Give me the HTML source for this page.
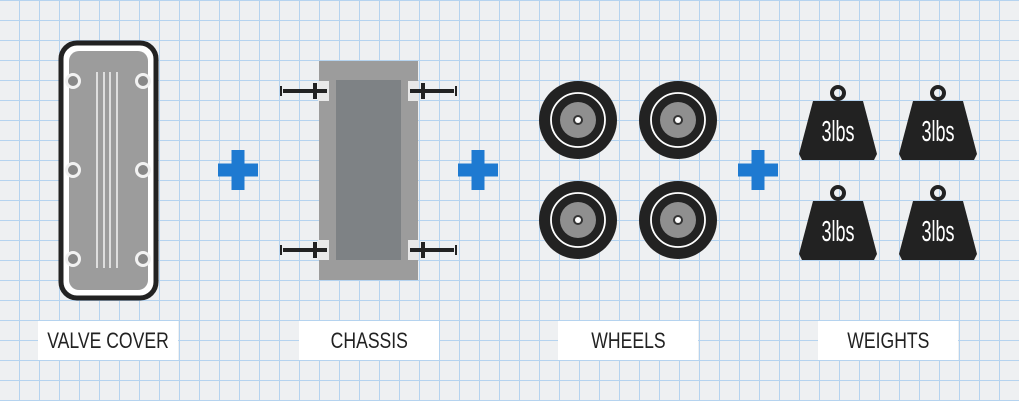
<!DOCTYPE html>
<html><head><meta charset="utf-8"><style>
html,body{margin:0;padding:0}
body{width:1019px;height:401px;overflow:hidden;position:relative;
background-color:#eef0f2;
background-image:linear-gradient(to right,#b5d3ef 1px,transparent 1px),linear-gradient(to bottom,#b5d3ef 1px,transparent 1px);
background-size:20px 20px;background-position:19px 0,0 0;}
.lab{position:absolute;top:321px;width:140px;height:39px;background:#fff;display:flex;align-items:center;justify-content:center;white-space:nowrap;
font-family:"Liberation Sans",sans-serif;font-size:22px;color:#222}
.lab span{display:inline-block;transform:scaleX(0.8)}
svg{position:absolute;left:0;top:0}
</style></head><body>
<svg width="1019" height="401" viewBox="0 0 1019 401">
<defs>
<g id="plus"><rect x="-20" y="-6.5" width="40" height="13" fill="#1e7ad1"/><rect x="-6.5" y="-20" width="13" height="40" fill="#1e7ad1"/></g>
<g id="wheel"><circle r="39" fill="#222"/><circle r="27" fill="none" stroke="#fff" stroke-width="1.8"/><circle r="18" fill="#8f8f8f"/><circle r="5" fill="#333"/><circle r="3" fill="#fff"/></g>
<g id="wt"><circle cx="0" cy="-37" r="6" fill="none" stroke="#222" stroke-width="4"/><path d="M-25,-29 L25,-29 L39,24 L36,30 L-36,30 L-39,24 Z" fill="#222"/>
<text x="0" y="11" text-anchor="middle" font-family="Liberation Sans,sans-serif" font-size="29" fill="#fff" transform="scale(0.62,1)">3lbs</text></g>
</defs>
<!-- valve cover -->
<rect x="61" y="43" width="95" height="255" rx="16" fill="#fff" stroke="#222" stroke-width="5"/>
<rect x="69" y="51" width="79" height="239" rx="10" fill="#9c9c9c"/>
<g fill="#f2f2f2">
<circle cx="73" cy="81" r="8"/><circle cx="143" cy="81" r="8"/>
<circle cx="73" cy="170" r="8"/><circle cx="143" cy="170" r="8"/>
<circle cx="73" cy="259" r="8"/><circle cx="143" cy="259" r="8"/></g>
<g fill="#888">
<circle cx="73" cy="81" r="5"/><circle cx="143" cy="81" r="5"/>
<circle cx="73" cy="170" r="5"/><circle cx="143" cy="170" r="5"/>
<circle cx="73" cy="259" r="5"/><circle cx="143" cy="259" r="5"/></g>
<g stroke="#f4f4f4" stroke-width="1.5"><line x1="97" y1="72" x2="97" y2="268"/><line x1="104" y1="72" x2="104" y2="268"/><line x1="110" y1="72" x2="110" y2="268"/><line x1="117" y1="72" x2="117" y2="268"/></g>
<use href="#plus" x="238" y="170"/>
<!-- chassis -->
<rect x="319" y="61" width="99" height="219" fill="#9c9c9c"/>
<rect x="336" y="80" width="65" height="180" fill="#7e8285"/>
<g fill="#e8e8e8"><rect x="318" y="81" width="11" height="20"/><rect x="408" y="81" width="11" height="20"/><rect x="318" y="240" width="11" height="20"/><rect x="408" y="240" width="11" height="20"/></g>
<g fill="#222">
<rect x="283" y="89" width="44" height="4"/><rect x="313" y="83" width="4" height="16"/><rect x="280" y="86" width="2" height="10"/>
<rect x="410" y="89" width="44" height="4"/><rect x="421" y="83" width="4" height="16"/><rect x="455" y="86" width="2" height="10"/>
<rect x="283" y="248" width="44" height="4"/><rect x="313" y="242" width="4" height="16"/><rect x="280" y="245" width="2" height="10"/>
<rect x="410" y="248" width="44" height="4"/><rect x="421" y="242" width="4" height="16"/><rect x="455" y="245" width="2" height="10"/></g>
<use href="#plus" x="478" y="170"/>
<use href="#wheel" x="578" y="120"/><use href="#wheel" x="678" y="120"/>
<use href="#wheel" x="578" y="220"/><use href="#wheel" x="678" y="220"/>
<use href="#plus" x="758" y="170"/>
<use href="#wt" x="838" y="130"/><use href="#wt" x="938" y="130"/>
<use href="#wt" x="838" y="230"/><use href="#wt" x="938" y="230"/>
</svg>
<div class="lab" style="left:38px"><span>VALVE COVER</span></div>
<div class="lab" style="left:299px"><span>CHASSIS</span></div>
<div class="lab" style="left:558px"><span>WHEELS</span></div>
<div class="lab" style="left:818px"><span>WEIGHTS</span></div>
</body></html>
